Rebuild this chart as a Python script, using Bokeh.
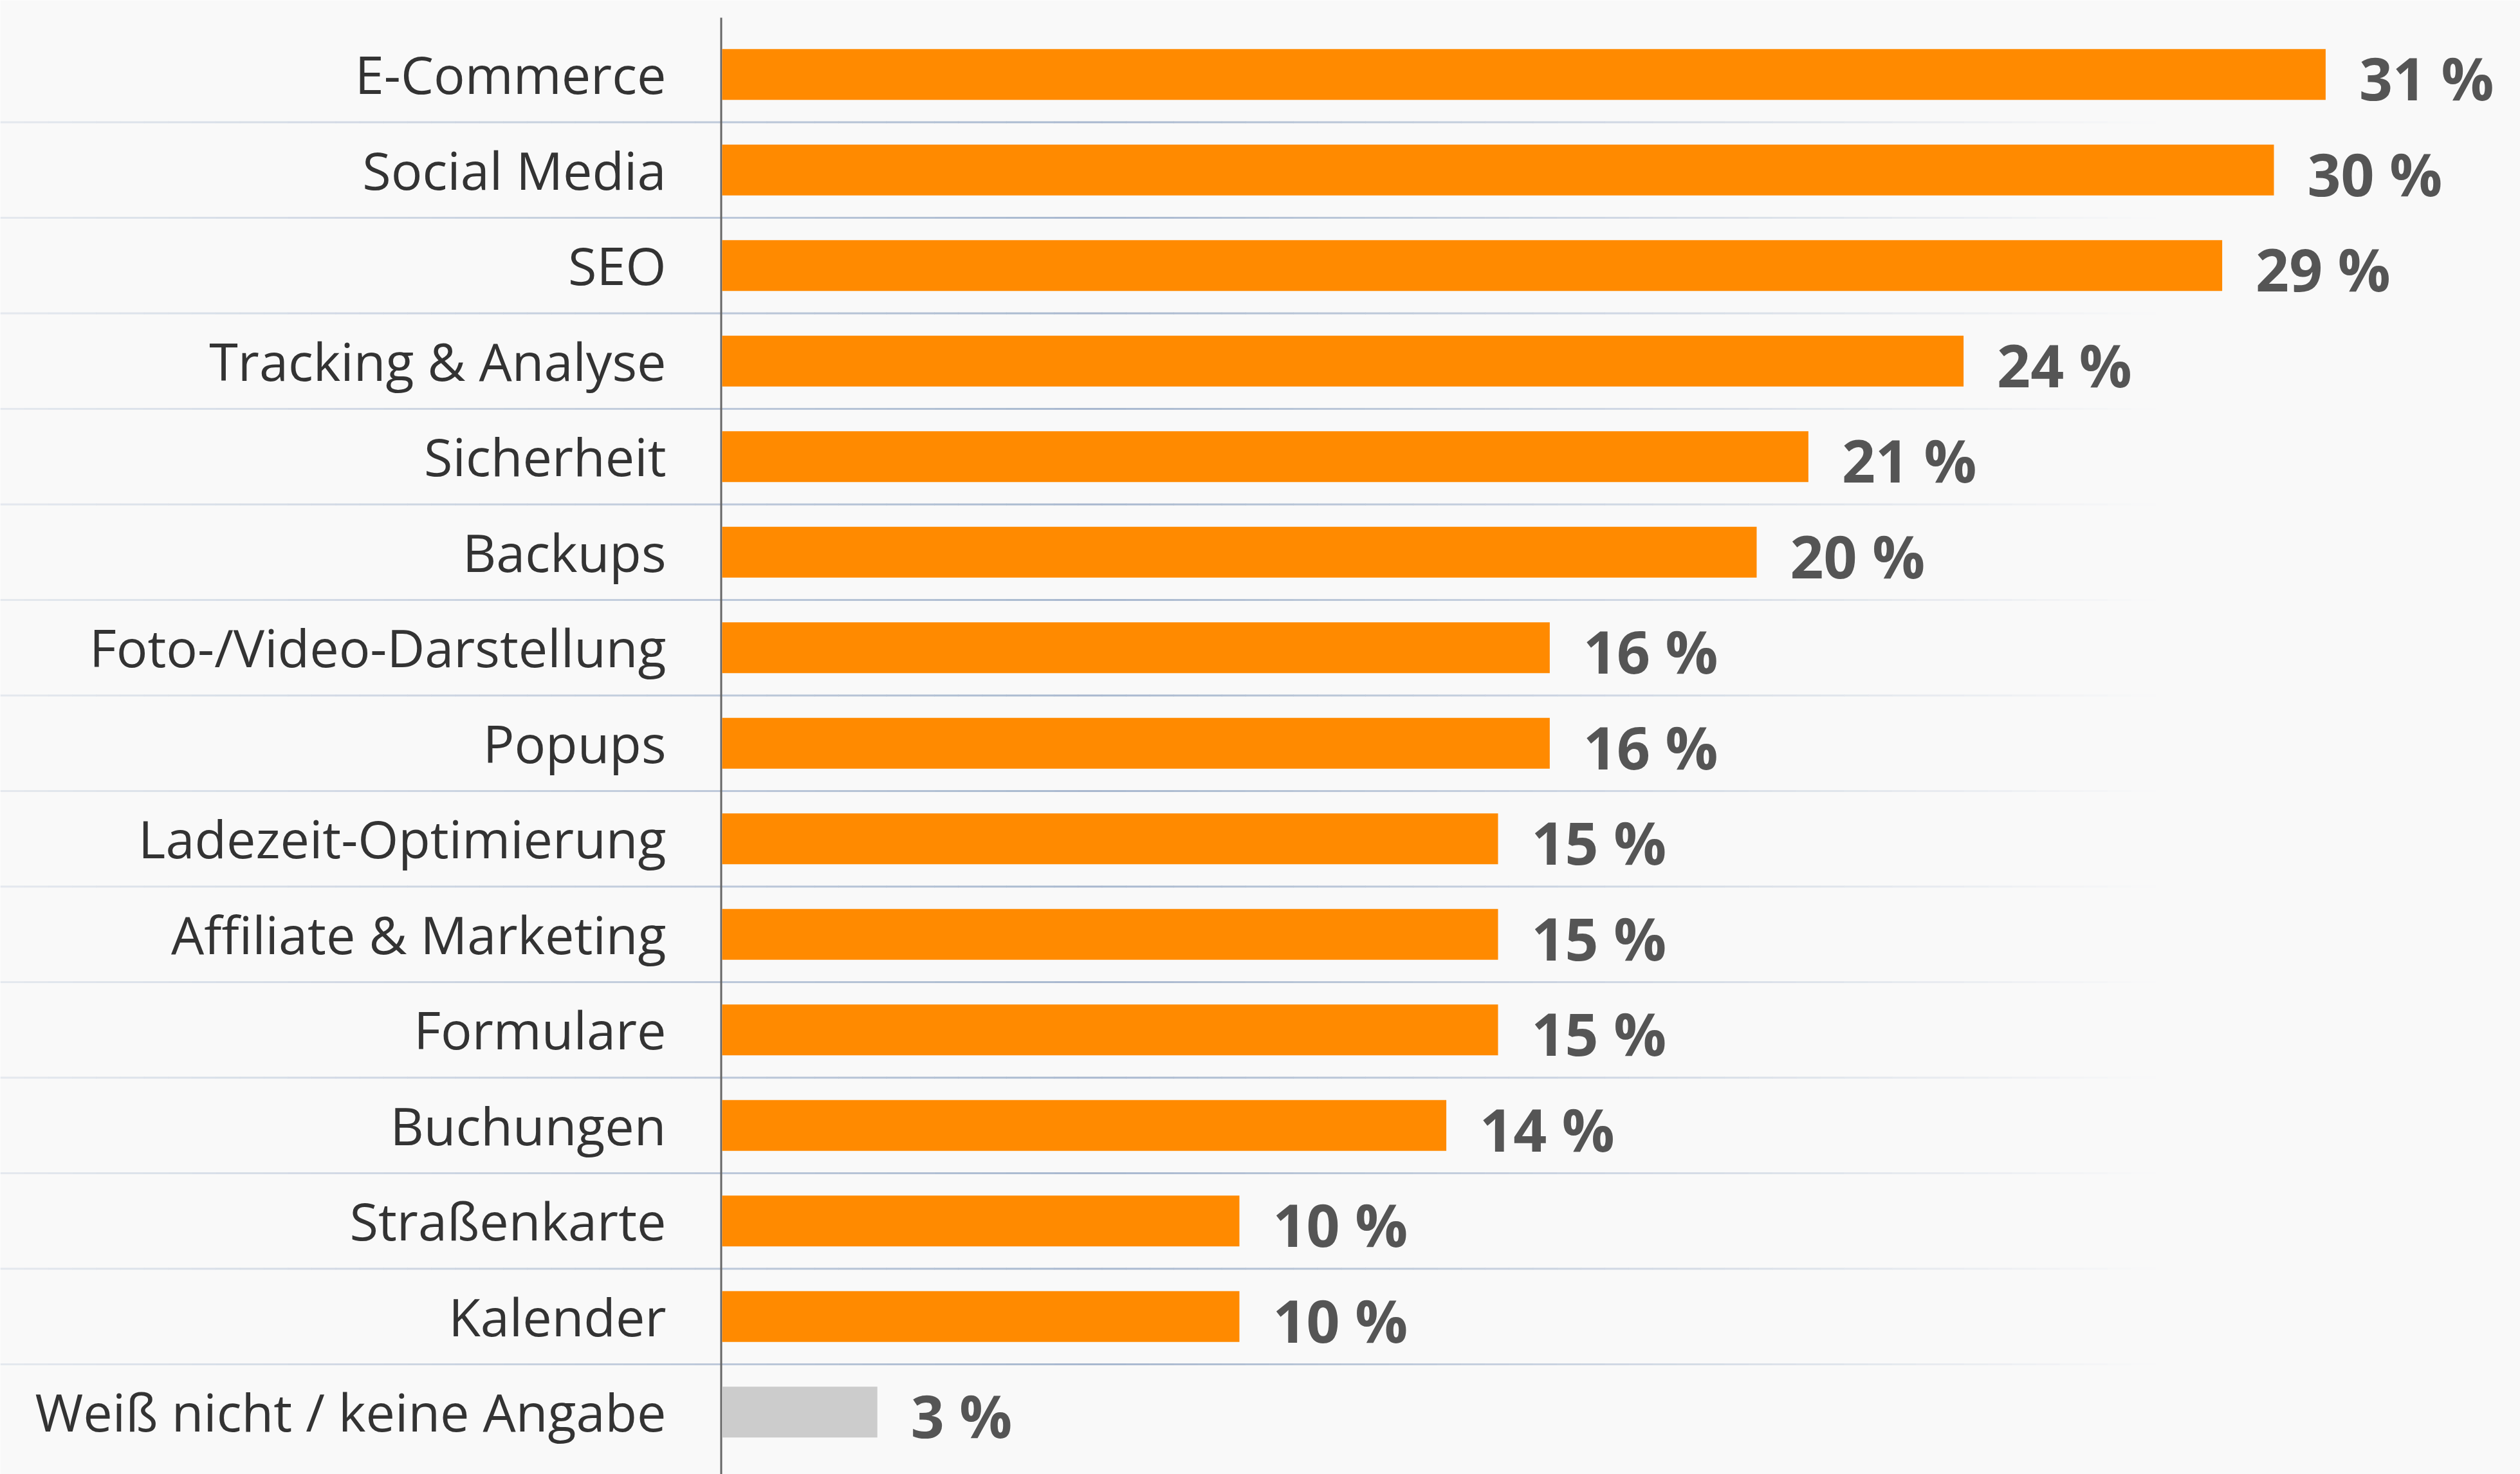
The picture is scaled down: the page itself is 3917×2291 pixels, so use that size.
from bokeh.plotting import figure
from bokeh.models import ColumnDataSource, Range1d
from bokeh.core.properties import value
from bokeh.embed import file_html
from bokeh.resources import INLINE

# ---- data ----
categories = [
    "E-Commerce", "Social Media", "SEO", "Tracking & Analyse", "Sicherheit",
    "Backups", "Foto-/Video-Darstellung", "Popups", "Ladezeit-Optimierung",
    "Affiliate & Marketing", "Formulare", "Buchungen", "Straßenkarte",
    "Kalender", "Weiß nicht / keine Angabe",
]
values = [31, 30, 29, 24, 21, 20, 16, 16, 15, 15, 15, 14, 10, 10, 3]
value_labels = [f"{v} %" for v in values]
bar_colors = ["#ff8a00"] * 14 + ["#cccccc"]

# ---- layout (pixels) ----
W, H = 3917, 2291
ROW = 148.5          # px per row
PX_PER_PCT = 80.4    # px per percent
ZERO_PX = 1122       # frame px of 0 %
TOP_PX = 41          # frame px of top of first row
BG = "#f9f9f9"

x_start = -ZERO_PX / PX_PER_PCT
x_end = (W - ZERO_PX) / PX_PER_PCT
y_end = -0.5 - TOP_PX / ROW
y_start = y_end + H / ROW

def px2x(px):
    return (px - ZERO_PX) / PX_PER_PCT

p = figure(width=W, height=H,
           x_range=Range1d(x_start, x_end), y_range=Range1d(y_start, y_end),
           output_backend="svg", toolbar_location=None, min_border=0,
           x_axis_location=None, y_axis_location=None)
p.grid.visible = False
p.outline_line_color = None
p.background_fill_color = BG
p.border_fill_color = BG

idx = list(range(len(categories)))
src = ColumnDataSource(dict(y=idx, v=values, cat=categories, lab=value_labels,
                            col=bar_colors, zero=[0] * len(idx)))

# ---- gradient row dividers ----
def hex2rgb(h):
    h = h.lstrip("#")
    return tuple(int(h[i:i + 2], 16) for i in (0, 2, 4))

peak = hex2rgb("#a8b8cf")
bg = hex2rgb(BG)
x_lo, x_mid, x_hi = 0, 1708, 3350

def alpha_at(px):
    if px <= x_mid:
        return 0.25 + 0.75 * (px / x_mid)
    return max(0.0, (x_hi - px) / (x_hi - x_mid))

N = 90
seg_x0, seg_x1, seg_y, seg_c = [], [], [], []
for k in range(1, len(categories)):
    yk = k - 0.5
    for i in range(N):
        a0 = x_lo + (x_hi - x_lo) * i / N
        a1 = x_lo + (x_hi - x_lo) * (i + 1) / N
        al = alpha_at((a0 + a1) / 2)
        c = tuple(int(round(peak[j] * al + bg[j] * (1 - al))) for j in range(3))
        seg_x0.append(px2x(a0))
        seg_x1.append(px2x(a1 + 0.6))
        seg_y.append(yk)
        seg_c.append("#%02x%02x%02x" % c)
p.segment(x0=seg_x0, x1=seg_x1, y0=seg_y, y1=seg_y, line_color=seg_c,
          line_width=3, line_cap="butt")

# ---- axis line ----
p.segment(x0=[px2x(1120.5)], x1=[px2x(1120.5)], y0=[y_end + 27 / ROW], y1=[y_start],
          line_color="#666666", line_width=3)

# ---- bars ----
p.hbar(y="y", left=0, right="v", height=79 / ROW, fill_color="col",
       line_color=None, source=src)

# ---- category labels ----
p.text(x="zero", y="y", text="cat", source=src, text_align="right",
       text_baseline="alphabetic", x_offset=-87, y_offset=-1,
       text_font=value("Open Sans"), text_font_size="81px", text_color="#333333")

# ---- value labels ----
p.text(x="v", y="y", text="lab", source=src, text_align="left",
       text_baseline="alphabetic", x_offset=52, y_offset=5.5,
       text_font=value("Open Sans"), text_font_style="bold",
       text_font_size="91px", text_color="#555555")

open("out.html", "w").write(file_html(p, INLINE))
